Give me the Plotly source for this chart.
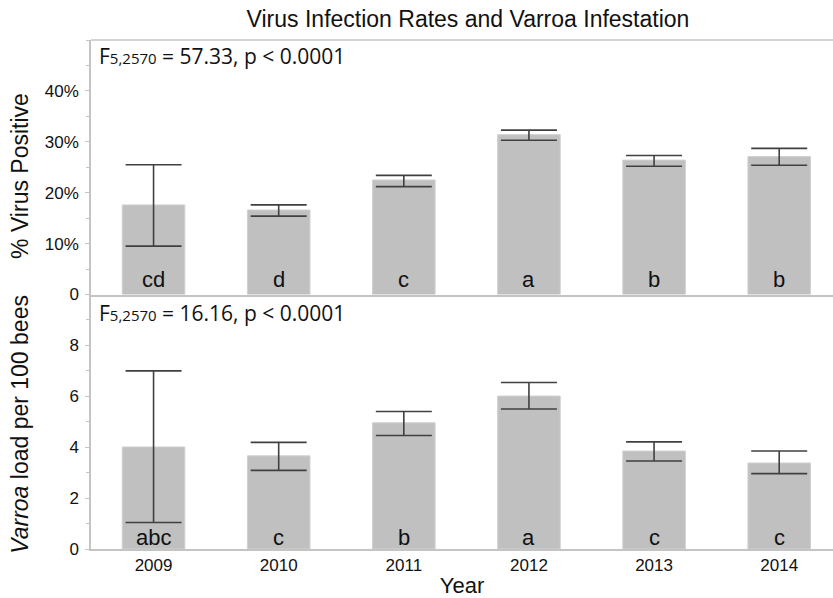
import plotly.graph_objects as go

years = ["2009", "2010", "2011", "2012", "2013", "2014"]

# % virus positive (fraction), with upper / lower error limits
virus_mean = [0.176, 0.166, 0.225, 0.314, 0.264, 0.271]
virus_upper = [0.255, 0.176, 0.234, 0.323, 0.273, 0.287]
virus_lower = [0.095, 0.154, 0.212, 0.303, 0.252, 0.254]
virus_letters = ["cd", "d", "c", "a", "b", "b"]

# Varroa load per 100 bees
varroa_mean = [4.01, 3.66, 4.96, 6.01, 3.85, 3.38]
varroa_upper = [7.0, 4.19, 5.40, 6.54, 4.21, 3.85]
varroa_lower = [1.04, 3.09, 4.46, 5.50, 3.46, 2.96]
varroa_letters = ["abc", "c", "b", "a", "c", "c"]

virus_ticks = [0, 0.1, 0.2, 0.3, 0.4]
virus_ticktext = ["0", "10%", "20%", "30%", "40%"]
varroa_ticks = [0, 2, 4, 6, 8]

virus_stat = "F<span style='font-size:15px'>5,2570</span> = 57.33, p < 0.0001"
varroa_stat = "F<span style='font-size:15px'>5,2570</span> = 16.16, p < 0.0001"

BAR = "#c0c0c0"
ERR = "#404040"
AXIS = "#c4c4c4"
SANS = "Arial, Liberation Sans, sans-serif"
INK = "#111111"


def bar_trace(means, upper, lower, xa, ya):
    return go.Bar(
        x=years,
        y=means,
        width=0.5,
        marker=dict(color=BAR, line=dict(color="#d0d0d0", width=1)),
        error_y=dict(
            type="data",
            symmetric=False,
            array=[u - m for u, m in zip(upper, means)],
            arrayminus=[m - l for m, l in zip(means, lower)],
            color=ERR,
            thickness=1.6,
            width=28,
        ),
        xaxis=xa,
        yaxis=ya,
        showlegend=False,
        hoverinfo="skip",
    )


fig = go.Figure()
fig.add_trace(bar_trace(virus_mean, virus_upper, virus_lower, "x", "y"))
fig.add_trace(bar_trace(varroa_mean, varroa_upper, varroa_lower, "x2", "y2"))

annotations = []
# significance letters at the base of each bar (category index positions)
for i, lab in enumerate(virus_letters):
    annotations.append(dict(x=i, y=0, xref="x", yref="y", text=lab, showarrow=False,
                            yanchor="middle", yshift=15,
                            font=dict(family=SANS, size=22, color=INK)))
for i, lab in enumerate(varroa_letters):
    annotations.append(dict(x=i, y=0, xref="x2", yref="y2", text=lab, showarrow=False,
                            yanchor="middle", yshift=12,
                            font=dict(family=SANS, size=22, color=INK)))

annotations += [
    dict(x=0, y=0.9686, xref="paper", yref="paper", xanchor="left", yanchor="middle",
         xshift=6, text=virus_stat, showarrow=False,
         font=dict(family="Open Sans, sans-serif", size=21, color=INK)),
    dict(x=0, y=0.4637, xref="paper", yref="paper", xanchor="left", yanchor="middle",
         xshift=6, text=varroa_stat, showarrow=False,
         font=dict(family="Open Sans, sans-serif", size=21, color=INK)),
    dict(x=0, y=0.733, xref="paper", yref="paper", xanchor="center", yanchor="middle",
         xshift=-71, textangle=-90, text="% Virus Positive", showarrow=False,
         font=dict(family=SANS, size=23, color=INK)),
    dict(x=0, y=0.244, xref="paper", yref="paper", xanchor="center", yanchor="middle",
         xshift=-71, textangle=-90, text="<i>Varroa</i> load per 100 bees", showarrow=False,
         font=dict(family=SANS, size=23, color=INK)),
]

xrange = [-0.5, 5.43]
tickfont = dict(family=SANS, size=17, color=INK)

fig.update_layout(
    width=833,
    height=598,
    margin=dict(l=91, r=0, t=40, b=49),
    plot_bgcolor="white",
    paper_bgcolor="white",
    title=dict(
        text="Virus Infection Rates and Varroa Infestation",
        x=0.5618, xanchor="center", y=0.969, yanchor="middle",
        font=dict(family=SANS, size=23, color=INK),
    ),
    xaxis=dict(
        domain=[0, 1], anchor="y", range=xrange, type="category",
        showticklabels=False, ticks="", showline=True, linecolor=AXIS,
        linewidth=1.5, showgrid=False, zeroline=False, automargin=False,
    ),
    yaxis=dict(
        domain=[0.5, 1], anchor="x", range=[0, 0.5],
        tickvals=virus_ticks, ticktext=virus_ticktext,
        ticks="outside", ticklen=4, tickcolor=AXIS, ticklabelstandoff=3,
        minor=dict(ticks="outside", ticklen=3, dtick=0.05, tick0=0, tickcolor=AXIS),
        showline=True, linecolor=AXIS, linewidth=1.5, showgrid=False, zeroline=False,
        tickfont=tickfont, automargin=False,
    ),
    xaxis2=dict(
        domain=[0, 1], anchor="y2", range=xrange, type="category",
        ticks="", showline=True, linecolor=AXIS, linewidth=1.5,
        showgrid=False, zeroline=False, tickfont=tickfont, automargin=False,
        title=dict(text="Year", font=dict(family=SANS, size=22, color=INK), standoff=10),
    ),
    yaxis2=dict(
        domain=[0, 0.5], anchor="x2", range=[0, 10],
        tickvals=varroa_ticks,
        ticks="outside", ticklen=4, tickcolor=AXIS, ticklabelstandoff=3,
        minor=dict(ticks="outside", ticklen=3, dtick=1, tick0=0, tickcolor=AXIS),
        showline=True, linecolor=AXIS, linewidth=1.5, showgrid=False, zeroline=False,
        tickfont=tickfont, automargin=False,
    ),
    annotations=annotations,
    # frame line along the top of the upper panel
    shapes=[dict(type="line", xref="paper", yref="paper", x0=0, x1=1, y0=1, y1=1,
                 line=dict(color=AXIS, width=1.5))],
)

# drop the browser's default body margin so the figure fills the window exactly
fig.write_html(
    "out.html",
    config={"displayModeBar": False},
    post_script="document.body.style.margin='0';document.body.style.overflow='hidden';",
)
